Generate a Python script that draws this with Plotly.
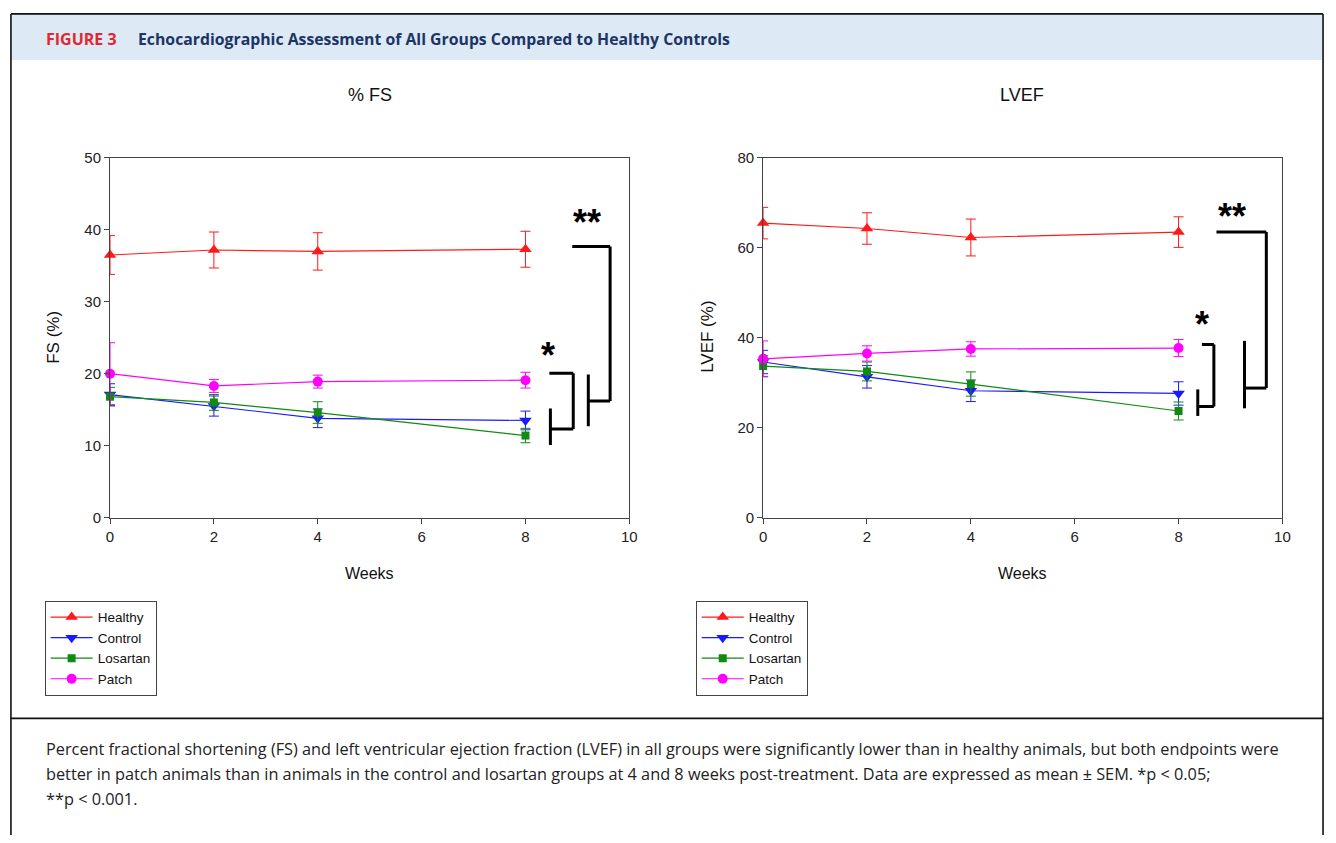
import plotly.graph_objects as go

W, H = 1336, 843

weeks = [0, 2, 4, 8]
groups = ["Healthy", "Control", "Losartan", "Patch"]

# % FS (mean, SEM)
fs_healthy = [36.5, 37.2, 37.0, 37.3]
fs_healthy_err = [2.7, 2.5, 2.6, 2.5]
fs_control = [17.1, 15.5, 13.8, 13.5]
fs_control_err = [1.5, 1.4, 1.3, 1.3]
fs_losartan = [16.8, 16.0, 14.6, 11.4]
fs_losartan_err = [1.3, 1.1, 1.5, 1.0]
fs_patch = [20.0, 18.3, 18.9, 19.1]
fs_patch_err = [4.3, 0.9, 0.9, 1.1]

# LVEF (mean, SEM)
ef_healthy = [65.5, 64.3, 62.3, 63.5]
ef_healthy_err = [3.5, 3.5, 4.1, 3.4]
ef_control = [34.6, 31.3, 28.2, 27.6]
ef_control_err = [2.6, 2.5, 2.4, 2.6]
ef_losartan = [33.7, 32.5, 29.7, 23.7]
ef_losartan_err = [2.3, 2.1, 2.7, 2.0]
ef_patch = [35.3, 36.5, 37.5, 37.7]
ef_patch_err = [4.0, 1.7, 1.6, 1.9]

x_ticks = [0, 2, 4, 6, 8, 10]
fs_ticks = [0, 10, 20, 30, 40, 50]
ef_ticks = [0, 20, 40, 60, 80]

colors = {"Healthy": "#ff1a1a", "Control": "#1a1aff", "Losartan": "#118a11", "Patch": "#ff00ff"}
symbols = {"Healthy": "triangle-up", "Control": "triangle-down", "Losartan": "square", "Patch": "circle"}
sizes = {"Healthy": 11, "Control": 11, "Losartan": 8, "Patch": 10}

FONT = "Liberation Sans, Arial, sans-serif"

def px(x):
    return x / W

def py(y):
    return 1 - y / H

fig = go.Figure()

fs_data = {"Healthy": (fs_healthy, fs_healthy_err), "Control": (fs_control, fs_control_err),
           "Losartan": (fs_losartan, fs_losartan_err), "Patch": (fs_patch, fs_patch_err)}
ef_data = {"Healthy": (ef_healthy, ef_healthy_err), "Control": (ef_control, ef_control_err),
           "Losartan": (ef_losartan, ef_losartan_err), "Patch": (ef_patch, ef_patch_err)}

for ax, data, leg in [("", fs_data, "legend"), ("2", ef_data, "legend2")]:
    for g in groups:
        vals, errs = data[g]
        fig.add_trace(go.Scatter(
            x=weeks, y=vals, name=g, mode="lines+markers",
            xaxis="x" + ax, yaxis="y" + ax, legend=leg,
            line=dict(color=colors[g], width=1.2),
            marker=dict(symbol=symbols[g], size=sizes[g], color=colors[g]),
            error_y=dict(type="data", array=errs, visible=True, color=colors[g], thickness=1, width=5),
            cliponaxis=False,
        ))

axis_common = dict(showgrid=False, zeroline=False, showline=True, mirror=True, linecolor="#444",
                   linewidth=1, ticks="outside", ticklen=5, tickcolor="#444",
                   tickfont=dict(family=FONT, size=15, color="#222"))

legend_common = dict(xanchor="left", yanchor="top", bordercolor="#444", borderwidth=1,
                     bgcolor="white", font=dict(family=FONT, size=13.5, color="#111"),
                     tracegroupgap=0, itemwidth=42)

fig.update_layout(
    width=W, height=H, margin=dict(l=0, r=0, t=0, b=0),
    paper_bgcolor="white", plot_bgcolor="white",
    xaxis=dict(domain=[px(107), px(631)], range=[0, 10], tickvals=x_ticks, anchor="y", **axis_common),
    yaxis=dict(domain=[py(519), py(152)], range=[0, 50], tickvals=fs_ticks, anchor="x", **axis_common),
    xaxis2=dict(domain=[px(766), px(1290)], range=[0, 10], tickvals=x_ticks, anchor="y2", **axis_common),
    yaxis2=dict(domain=[py(519), py(152)], range=[0, 80], tickvals=ef_ticks, anchor="x2", **axis_common),
    legend=dict(x=px(41), y=py(604), **legend_common),
    legend2=dict(x=px(698), y=py(604), **legend_common),
)

shapes = []
# header band and frame
shapes.append(dict(type="rect", xref="paper", yref="paper", x0=px(7), x1=px(1331), y0=py(52), y1=py(5),
                   fillcolor="#dde9f5", line=dict(width=0), layer="below"))
for (x0, y0, x1, y1) in [(7, 5, 1331, 5), (7, 5, 7, 843), (1331, 5, 1331, 843), (7, 724, 1331, 724)]:
    shapes.append(dict(type="line", xref="paper", yref="paper", x0=px(x0), y0=py(y0), x1=px(x1), y1=py(y1),
                       line=dict(color="#111", width=1.6)))

# significance brackets (data coordinates)
def bracket(xr, yr, pts):
    for i in range(len(pts) - 1):
        shapes.append(dict(type="line", xref=xr, yref=yr, x0=pts[i][0], y0=pts[i][1],
                           x1=pts[i + 1][0], y1=pts[i + 1][1], line=dict(color="black", width=3)))

bracket("x", "y", [(8.9, 37.7), (9.63, 37.7), (9.63, 16.2), (9.21, 16.2)])
bracket("x", "y", [(9.21, 19.9), (9.21, 12.7)])
bracket("x", "y", [(8.46, 20.05), (8.92, 20.05), (8.92, 12.3), (8.48, 12.3)])
bracket("x", "y", [(8.48, 15.15), (8.48, 10.07)])

bracket("x2", "y2", [(8.73, 63.5), (9.69, 63.5), (9.69, 28.8), (9.27, 28.8)])
bracket("x2", "y2", [(9.27, 39.3), (9.27, 24.3)])
bracket("x2", "y2", [(8.45, 38.5), (8.68, 38.5), (8.68, 24.7), (8.37, 24.7)])
bracket("x2", "y2", [(8.37, 28.5), (8.37, 22.6)])

fig.update_layout(shapes=shapes)

ann = []
def text(x, y, s, size, color="#111", family=FONT, xanchor="center", yanchor="middle", angle=0, bold=False):
    if bold:
        s = "<b>" + s + "</b>"
    ann.append(dict(xref="paper", yref="paper", x=px(x), y=py(y), text=s, showarrow=False,
                    font=dict(family=family, size=size, color=color), xanchor=xanchor, yanchor=yanchor,
                    textangle=angle))

HEAD = "Open Sans, sans-serif"
text(40, 31, "FIGURE 3", 16, color="#e3262f", family=HEAD, xanchor="left", bold=True)
text(133, 31, "Echocardiographic Assessment of All Groups Compared to Healthy Controls", 15.8,
     color="#1c3566", family=HEAD, xanchor="left", bold=True)

text(369, 88, "% FS", 18)
text(1027, 88, "LVEF", 18)
text(369, 576, "Weeks", 16)
text(1028, 576, "Weeks", 16)
text(50, 335, "FS (%)", 17, angle=-90)
text(710, 335, "LVEF (%)", 17, angle=-90)

# asterisks
for xr, yr, xv, yv, s in [("x", "y", 9.18, 41.0, "**"), ("x", "y", 8.44, 22.5, "*"),
                          ("x2", "y2", 9.03, 67.0, "**"), ("x2", "y2", 8.46, 43.0, "*")]:
    ann.append(dict(xref=xr, yref=yr, x=xv, y=yv, text="<b>" + s + "</b>", showarrow=False,
                    font=dict(family=FONT, size=36, color="black"), yanchor="middle"))

CAP = "Open Sans, sans-serif"
cap_lines = [
    "Percent fractional shortening (FS) and left ventricular ejection fraction (LVEF) in all groups were significantly lower than in healthy animals, but both endpoints were",
    "better in patch animals than in animals in the control and losartan groups at 4 and 8 weeks post-treatment. Data are expressed as mean \u00b1 SEM. *p < 0.05;",
    "**p < 0.001.",
]
for i, line in enumerate(cap_lines):
    text(40, 755 + 25.5 * i, line, 16.3, color="#222", family=CAP, xanchor="left")

fig.update_layout(annotations=ann)

# pin the figure to the window's top-left corner regardless of the page's default body margin
pin = """
var gd=document.getElementById('{plot_id}');
document.body.style.margin='0';
document.documentElement.style.overflow='hidden';
gd.style.position='fixed';gd.style.left='0px';gd.style.top='0px';
"""
fig.write_html("out.html", post_script=pin)
